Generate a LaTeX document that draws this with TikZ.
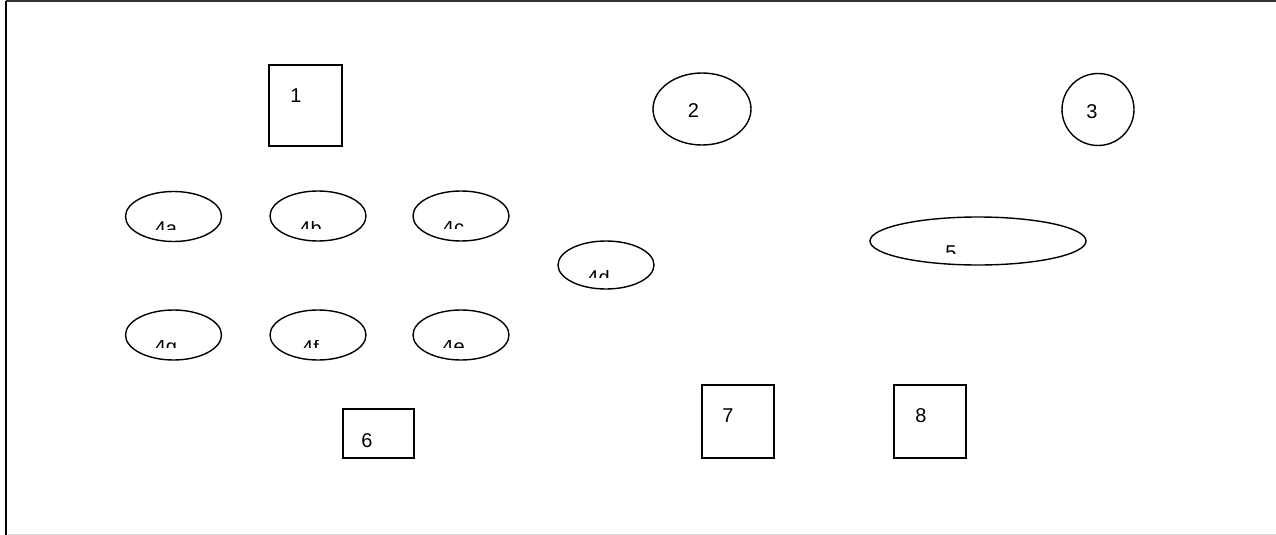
\documentclass[tikz,border=0pt]{standalone}
\usepackage{fontspec}
\setmainfont{Liberation Sans}
\usetikzlibrary{shapes.geometric,calc}
\tikzset{
  shapeline/.style={draw=black, line width=1.4pt},
  oval/.style={shapeline, ellipse, inner sep=0pt},
  boxnode/.style={shapeline, rectangle, inner sep=0pt},
  lbl/.style={inner sep=0pt, font=\fontsize{20}{24}\selectfont},
}
\newcommand{\cutlbl}[4]{% node, dx, dy(top), text
  \begin{scope}
    \clip ($(#1.center)+(-45,#3)$) rectangle ($(#1.center)+(45,#3+7.5)$);
    \node[lbl, anchor=north] at ($(#1.center)+(#2,#3)$) {#4};
  \end{scope}}
\begin{document}
\begin{tikzpicture}[x=1pt,y=-1pt]
\useasboundingbox (0,0) rectangle (1276,535);
\fill[white] (0,0) rectangle (1276,535);
% frame
\coordinate (tl) at (6,1);
\coordinate (tr) at (1276,1);
\coordinate (bl) at (6,535);
\coordinate (br) at (1276,534);
\draw[line width=2pt, black!80] (tl) -- (tr);
\draw[line width=2pt, black] (tl) -- (bl);
\draw[line width=1pt, black!15] (8,534) -- (br);
% boxes
\node[boxnode, minimum width=73pt, minimum height=81pt] (n1) at (305.5,105.5) {};
\node[lbl] at (296,96) {1};
\node[boxnode, minimum width=71pt, minimum height=49pt] (n6) at (378.5,433.5) {};
\node[lbl] at (367,440.5) {6};
\node[boxnode, minimum width=72pt, minimum height=73pt] (n7) at (738,421.5) {};
\node[lbl] at (728,416) {7};
\node[boxnode, minimum width=72pt, minimum height=73pt] (n8) at (930,421.5) {};
\node[lbl] at (921,416) {8};
% ellipses
\node[oval, minimum width=98pt, minimum height=72pt] (n2) at (702,109) {};
\node[lbl] at (693.5,111) {2};
\node[oval, minimum width=72pt, minimum height=72pt] (n3) at (1098,109.5) {};
\node[lbl] at (1092,111.5) {3};
\node[oval, minimum width=96pt, minimum height=50pt] (n4a) at (173.5,216.5) {};
\node[oval, minimum width=96pt, minimum height=50pt] (n4b) at (318,216) {};
\node[oval, minimum width=96pt, minimum height=50pt] (n4c) at (461,216) {};
\node[oval, minimum width=96pt, minimum height=48pt] (n4d) at (606,265) {};
\node[oval, minimum width=96pt, minimum height=50pt] (n4g) at (173.5,335) {};
\node[oval, minimum width=96pt, minimum height=50pt] (n4f) at (318,335) {};
\node[oval, minimum width=96pt, minimum height=50pt] (n4e) at (461,335) {};
\node[oval, minimum width=216pt, minimum height=48pt] (n5) at (978,241) {};
\cutlbl{n4a}{-7.5}{5}{4a}
\cutlbl{n4b}{-7.5}{5}{4b}
\cutlbl{n4c}{-7.5}{5}{4c}
\cutlbl{n4d}{-7.5}{5}{4d}
\cutlbl{n4g}{-7.5}{5}{4g}
\cutlbl{n4f}{-7.5}{5}{4f}
\cutlbl{n4e}{-7.5}{5}{4e}
\cutlbl{n5}{-27}{4.5}{5}
\end{tikzpicture}
\end{document}
